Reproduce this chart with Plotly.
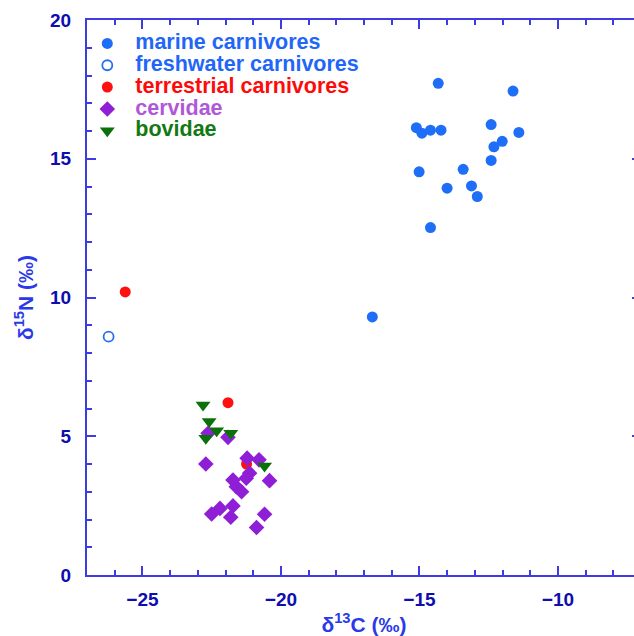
import plotly.graph_objects as go

# ---- data (delta13C, delta15N) ----
marine_x = [-14.32, -11.62, -15.11, -14.91, -14.60, -14.22, -12.41, -11.41, -12.01,
            -12.31, -12.41, -13.42, -15.01, -13.12, -14.00, -12.91, -14.60, -16.70]
marine_y = [17.72, 17.44, 16.12, 15.92, 16.03, 16.03, 16.23, 15.95, 15.63,
            15.43, 14.94, 14.62, 14.53, 14.02, 13.94, 13.64, 12.52, 9.30]

fresh_x = [-26.22]
fresh_y = [8.59]

terr_x = [-25.62, -21.91, -21.24]
terr_y = [10.20, 6.21, 4.00]

cerv_x = [-22.63, -21.91, -22.71, -21.22, -20.79, -21.13, -21.25, -21.73, -20.41,
          -21.61, -21.42, -21.73, -22.20, -22.50, -21.81, -20.59, -20.88]
cerv_y = [5.11, 4.96, 4.00, 4.21, 4.15, 3.67, 3.49, 3.42, 3.40,
          3.18, 3.00, 2.49, 2.40, 2.20, 2.08, 2.19, 1.71]

bov_x = [-22.81, -22.59, -22.32, -22.71, -21.81, -20.59]
bov_y = [6.13, 5.53, 5.20, 4.93, 5.11, 3.93]

x_range = [-27, -7]
y_range = [0, 20]

AXIS = "#3c3ce0"
TICKFONT = "#0d0db0"
TITLEFONT = "#2a3ae8"
FONT = "Liberation Sans, Arial, sans-serif"


def lbl(text, color):
    return f"<span style='font-size:21.5px;color:{color}'>{text}</span>"


fig = go.Figure()
fig.add_trace(go.Scatter(x=marine_x, y=marine_y, mode="markers",
                         name=lbl("marine carnivores", "#2266f8"),
                         marker=dict(symbol="circle", size=11, color="#1f6ef7")))
fig.add_trace(go.Scatter(x=fresh_x, y=fresh_y, mode="markers",
                         name=lbl("freshwater carnivores", "#2266f8"),
                         marker=dict(symbol="circle-open", size=10, color="#2a6ef0",
                                     line=dict(width=1.8, color="#2a6ef0"))))
fig.add_trace(go.Scatter(x=terr_x, y=terr_y, mode="markers",
                         name=lbl("terrestrial carnivores", "#ff0a0a"),
                         marker=dict(symbol="circle", size=11, color="#ff1010")))
fig.add_trace(go.Scatter(x=cerv_x, y=cerv_y, mode="markers",
                         name=lbl("cervidae", "#b058d8"),
                         marker=dict(symbol="diamond", size=12, color="#8e1fd6")))
fig.add_trace(go.Scatter(x=bov_x, y=bov_y, mode="markers",
                         name=lbl("bovidae", "#137a13"),
                         marker=dict(symbol="triangle-down", size=13, color="#0b720b")))

axis_common = dict(
    showgrid=False, zeroline=False, showline=True, linecolor=AXIS, linewidth=2,
    ticks="inside", ticklen=9, tickwidth=2, tickcolor=AXIS, mirror="ticks",
    tickfont=dict(family=FONT, size=19, color=TICKFONT, weight="bold"),
)

fig.update_layout(
    width=643, height=636,
    margin=dict(l=87, r=0, t=20, b=61),
    paper_bgcolor="white", plot_bgcolor="white",
    font=dict(family=FONT),
    showlegend=True,
    legend=dict(x=-0.0139, y=0.9865, xanchor="left", yanchor="top",
                font=dict(family=FONT, size=14.5, weight="bold"),
                bgcolor="rgba(0,0,0,0)", borderwidth=0, itemwidth=46),
    xaxis=dict(range=x_range, dtick=5,
               minor=dict(dtick=1, ticks="inside", ticklen=5, tickwidth=2, tickcolor=AXIS),
               ticklabelstandoff=6,
               title=dict(text="δ<sup>13</sup>C (‰)", standoff=1,
                          font=dict(family=FONT, size=21, color=TITLEFONT, weight="bold")),
               **axis_common),
    yaxis=dict(range=y_range, dtick=5,
               minor=dict(dtick=1, ticks="inside", ticklen=5, tickwidth=2, tickcolor=AXIS),
               ticklabelstandoff=10,
               title=dict(text="δ<sup>15</sup>N (‰)", standoff=11,
                          font=dict(family=FONT, size=21, color=TITLEFONT, weight="bold")),
               **axis_common),
)

fig.write_html(
    "out.html",
    config={"displayModeBar": False},
    post_script=(
        "document.documentElement.style.overflow='hidden';"
        "document.body.style.margin='0';"
        "document.body.style.overflow='hidden';"
    ),
)
